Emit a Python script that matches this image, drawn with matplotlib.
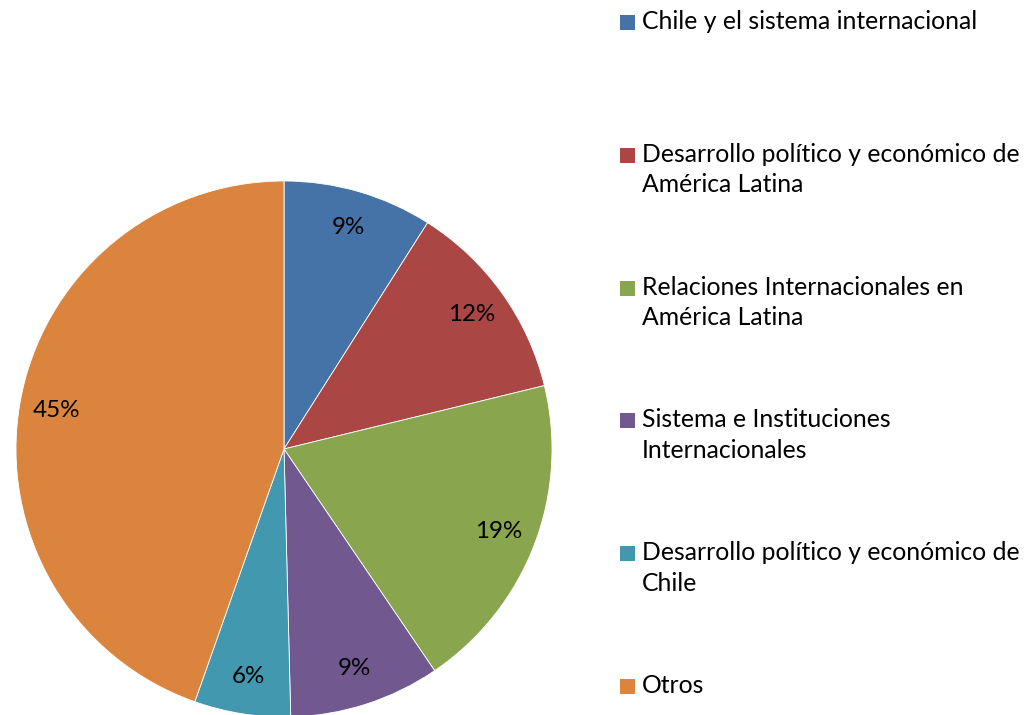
import matplotlib
matplotlib.use("Agg")
import matplotlib.pyplot as plt
import matplotlib.patches as patches

categories = [
    "Chile y el sistema internacional",
    "Desarrollo político y económico de\nAmérica Latina",
    "Relaciones Internacionales en\nAmérica Latina",
    "Sistema e Instituciones\nInternacionales",
    "Desarrollo político y económico de\nChile",
    "Otros",
]
shares = [9.0, 12.2, 19.3, 9.1, 5.8, 44.6]
colors = ["#4572A7", "#AA4643", "#89A54E", "#71588F", "#4198AF", "#DB843D"]

plt.rcParams["font.family"] = ["Lato", "DejaVu Sans"]

W, H = 1026, 715
fig = plt.figure(figsize=(W / 100, H / 100), dpi=100)

cx, cy, r = 284, 449, 268
ax = fig.add_axes([(cx - r) / W, (H - cy - r) / H, 2 * r / W, 2 * r / H])
ax.pie(
    shares,
    colors=colors,
    startangle=90,
    counterclock=False,
    autopct="%.0f%%",
    pctdistance=0.86,
    radius=1,
    wedgeprops=dict(linewidth=0.6, edgecolor="white"),
    textprops=dict(fontsize=17.4, color="black"),
)
ax.set_xlim(-1, 1)
ax.set_ylim(-1, 1)
ax.axis("off")

# legend drawn by hand so the entry spacing matches
y0, step = 22, 132.8
for i, (label, c) in enumerate(zip(categories, colors)):
    y = y0 + i * step
    sq = patches.Rectangle(
        (620 / W, (H - y - 8) / H), 15 / W, 15 / H,
        transform=fig.transFigure, facecolor=c, edgecolor="none",
    )
    fig.patches.append(sq)
    fig.text(642 / W, (H - y + 12) / H, label, fontsize=17.8, va="top",
             ha="left", linespacing=1.4, transform=fig.transFigure)

fig.savefig("out.png", dpi=100)
